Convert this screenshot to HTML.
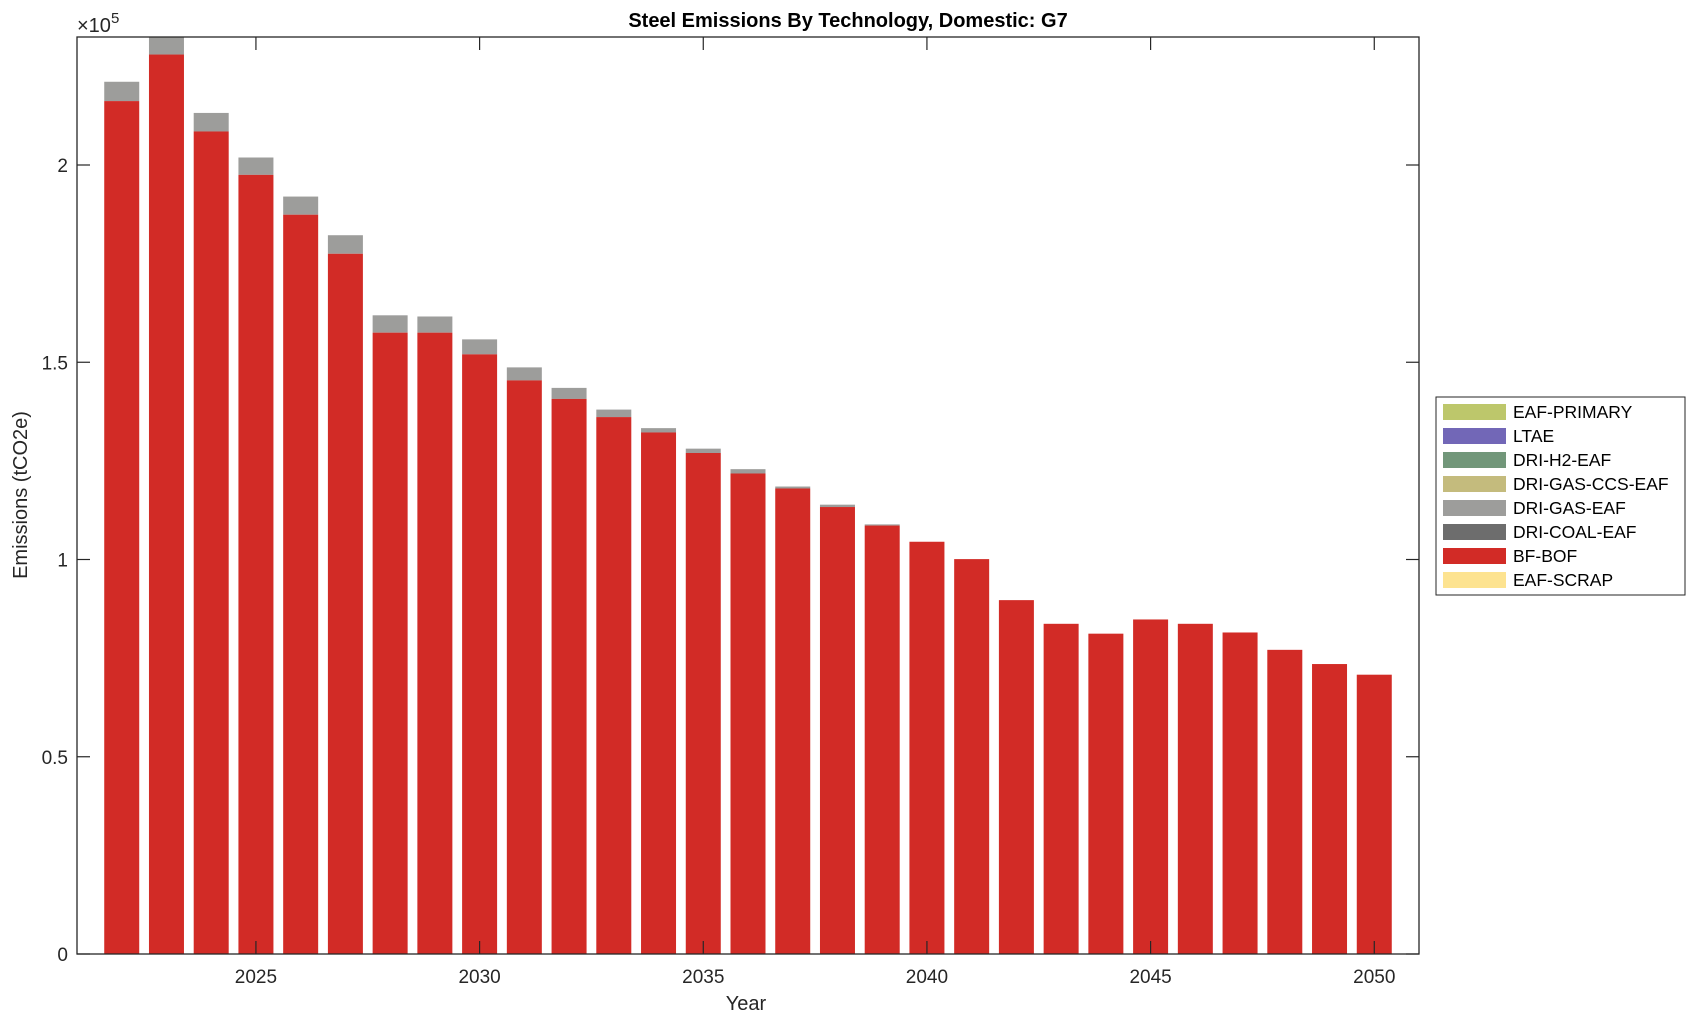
<!DOCTYPE html>
<html><head><meta charset="utf-8"><style>
body{margin:0;background:#fff}
svg{font-family:"Liberation Sans",Arial,sans-serif}
</style></head><body>
<svg id="c" width="1696" height="1022" xmlns="http://www.w3.org/2000/svg">
<rect width="1696" height="1022" fill="#fff"/>
<g id="bars"></g>
<rect x="77" y="37" width="1342" height="917" fill="none" stroke="#262626" stroke-width="1.3"/>
<g id="ticks" stroke="#262626" stroke-width="1.2"></g>
<g id="labels" font-size="19" fill="#262626"></g>
<text x="848" y="27" font-size="20" font-weight="bold" text-anchor="middle" fill="#000">Steel Emissions By Technology, Domestic: G7</text>
<text x="77" y="32" font-size="20" fill="#262626">×10<tspan dy="-9" font-size="15">5</tspan></text>
<text x="746" y="1010" font-size="20" text-anchor="middle" fill="#262626">Year</text>
<text transform="translate(27,495) rotate(-90)" font-size="20" text-anchor="middle" fill="#262626">Emissions (tCO2e)</text>
<g id="legend">
<rect x="1436" y="397" width="249" height="198" fill="#fff" stroke="#262626" stroke-width="1"/>
</g>
</svg>
<script>
var ns="http://www.w3.org/2000/svg";
function el(p,t,a,txt){var e=document.createElementNS(ns,t);for(var k in a)e.setAttribute(k,a[k]);if(txt)e.textContent=txt;document.getElementById(p).appendChild(e);return e;}
var x0=77,x1=1419,y0=954,yT=37,xmin=2021,xmax=2051;
var sx=(x1-x0)/(xmax-xmin),sy=394.5;
function X(v){return x0+(v-xmin)*sx}
function Y(v){return y0-v*sy}
var red=[2.162,2.280,2.085,1.975,1.874,1.775,1.575,1.575,1.520,1.454,1.407,1.361,1.322,1.270,1.218,1.180,1.133,1.086,1.045,1.001,0.897,0.837,0.812,0.848,0.837,0.815,0.771,0.735,0.708];
var tot=[2.211,2.40,2.132,2.019,1.920,1.822,1.619,1.616,1.558,1.487,1.435,1.380,1.333,1.281,1.229,1.185,1.139,1.089];
var bw=35;
for(var i=0;i<red.length;i++){
 var yr=2022+i,cx=X(yr);
 if(i<tot.length){var t=Math.max(Y(tot[i]),yT);el("bars","rect",{x:cx-bw/2,y:t,width:bw,height:Y(red[i])-t,fill:"#9d9d9b"});}
 el("bars","rect",{x:cx-bw/2,y:Y(red[i]),width:bw,height:y0-Y(red[i]),fill:"#d22b26"});
}
[0,0.5,1,1.5,2].forEach(function(v){var y=Y(v);
 el("ticks","line",{x1:x0,y1:y,x2:x0+13,y2:y});el("ticks","line",{x1:x1,y1:y,x2:x1-13,y2:y});
 el("labels","text",{x:x0-9,y:y+7,"text-anchor":"end"},String(v));});
[2025,2030,2035,2040,2045,2050].forEach(function(v){var x=X(v);
 el("ticks","line",{x1:x,y1:y0,x2:x,y2:y0-13});el("ticks","line",{x1:x,y1:yT,x2:x,y2:yT+13});
 el("labels","text",{x:x,y:y0+29,"text-anchor":"middle"},String(v));});
var leg=[["EAF-PRIMARY","#bdc76b"],["LTAE","#7267b7"],["DRI-H2-EAF","#72977a"],["DRI-GAS-CCS-EAF","#c4bb7d"],["DRI-GAS-EAF","#9d9d9b"],["DRI-COAL-EAF","#6d6d6d"],["BF-BOF","#d22b26"],["EAF-SCRAP","#fde390"]];
leg.forEach(function(l,i){var cy=412+i*24;
 el("legend","rect",{x:1443,y:cy-8,width:63,height:16,fill:l[1]});
 el("legend","text",{x:1513,y:cy+6,"font-size":17.5,fill:"#000"},l[0]);});
</script>
</body></html>
